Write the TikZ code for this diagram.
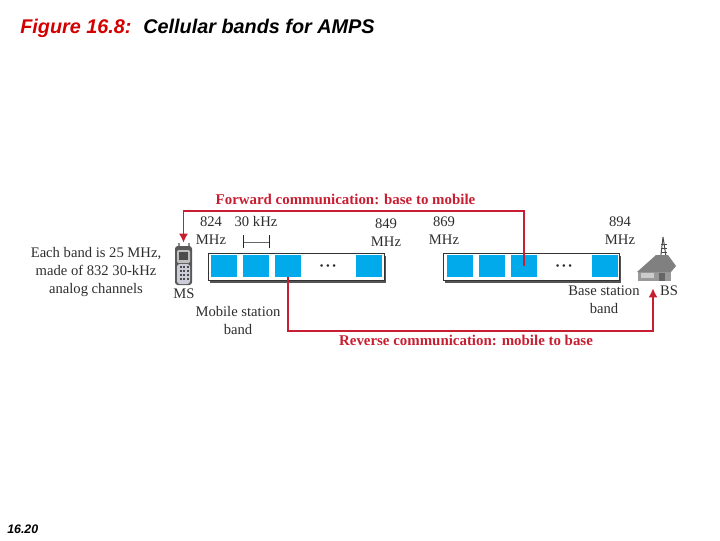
\documentclass[tikz,border=0pt]{standalone}
\usepackage{xcolor}
\usepackage{fontspec}
\setmainfont{Liberation Serif}
\newfontfamily\slidefont{Liberation Sans}
\usepackage{tikz}
\usetikzlibrary{arrows.meta}
\definecolor{bandblue}{RGB}{0,170,235}
\definecolor{linkred}{RGB}{200,30,50}
\definecolor{figred}{RGB}{210,0,0}
\definecolor{inktext}{RGB}{45,45,45}
\definecolor{shadowgray}{RGB}{85,85,85}
\begin{document}
\begin{tikzpicture}[
  x=0.025cm, y=-0.025cm,
  label/.style={font=\fontsize{10.4}{12.8}\selectfont, text=inktext, align=center, inner sep=0pt},
  linklabel/.style={font=\fontsize{10.6}{12}\selectfont\bfseries, text=linkred, inner sep=0pt},
  slidetext/.style={font=\slidefont\fontsize{14.1}{16}\selectfont\bfseries\itshape, anchor=base west, inner sep=0pt},
  band/.style={draw=black!80, fill=white, line width=0.6pt, anchor=north west,
    minimum width=4.4cm, minimum height=0.68cm, inner sep=0pt},
  bandshadow/.style={fill=shadowgray, anchor=north west,
    minimum width=4.4cm, minimum height=0.68cm, inner sep=0pt},
  cell/.style={fill=bandblue, anchor=north west, minimum width=0.64cm,
    minimum height=0.54cm, inner sep=0pt},
  dots/.style={font=\fontsize{7.5}{7.5}\selectfont, text=black!85, inner sep=0pt},
  link/.style={draw=linkred, line width=1.25pt, -{Latex[length=6.5pt,width=6.5pt]}},
]
\useasboundingbox (0,0) rectangle (720,540);

% slide title and page number
\node[slidetext, text=figred] (figno) at (20,33) {Figure 16.8:};
\node[slidetext] (title) at (143,33) {Cellular bands for AMPS};
\node[font=\slidefont\fontsize{8.8}{10}\selectfont\bfseries\itshape, anchor=west, inner sep=0pt] (pageno) at (7,529) {16.20};

% mobile station band
\node[bandshadow] (shadowA) at (210,256) {};
\node[band] (bandA) at (208,253) {};
\node[cell] (a1) at (211,255) {};
\node[cell] (a2) at (243,255) {};
\node[cell] (a3) at (275,255) {};
\node[cell] (a4) at (356,255) {};
\node[dots] (dotsA) at (328,267.5) {\textbullet\ \textbullet\ \textbullet};

% base station band
\node[bandshadow] (shadowB) at (445,256) {};
\node[band] (bandB) at (443,253) {};
\node[cell] (b1) at (447,255) {};
\node[cell] (b2) at (479,255) {};
\node[cell] (b3) at (511,255) {};
\node[cell] (b4) at (592,255) {};
\node[dots] (dotsB) at (564,267.5) {\textbullet\ \textbullet\ \textbullet};

% frequency labels
\node[label] (f824) at (211,231) {824\\MHz};
\node[label] (f849) at (386,233) {849\\MHz};
\node[label] (f869) at (444,231) {869\\MHz};
\node[label] (f894) at (620,231) {894\\MHz};
\node[label] (khz) at (256,221) {30 kHz};

% channel width mark
\coordinate (tickL) at (243,242);
\coordinate (tickR) at (269,242);
\draw[black!60, line width=0.5pt] (tickL) -- (tickR);
\draw[black!85, line width=0.6pt] (243,235) -- (243,248);
\draw[black!85, line width=0.6pt] (269,235) -- (269,248);

% other texts
\node[label] (note) at (96,272) {Each band is 25 MHz,\\made of 832 30-kHz\\analog channels};
\node[label] (ms) at (184,294) {MS};
\node[label] (msband) at (238,320) {Mobile station\\band};
\node[label] (bsband) at (604,300) {Base station\\band};
\node[label] (bs) at (669,291) {BS};
\node[linklabel] (fwd) at (345.5,199.5) {Forward communication: base to mobile};
\node[linklabel] (rev) at (466,340.5) {Reverse communication: mobile to base};

% handset
\node[inner sep=0pt, minimum width=0.4cm, minimum height=1cm] (phone) at (183.5,263) {};
\fill[black!45] (178,243) rectangle (180,248);
\fill[black!45] (188,243) rectangle (190,248);
\fill[black!65, rounded corners=2pt] (175,246) rectangle (192,285);
\fill[black!25, rounded corners=1pt] (177,250) rectangle (190,263);
\fill[black!70] (179,252) rectangle (188,260);
\fill[blue!30!black!20, rounded corners=2pt] (177,264) rectangle (190,284);
\foreach \yy in {266,270,274,278} {
  \foreach \xx in {179.5,183,186.5} {
    \fill[black!70] (\xx,\yy) rectangle ++(2,2);
  }
}

% base station
\node[inner sep=0pt, minimum width=0.95cm, minimum height=1.1cm] (house) at (653,266) {};
\draw[black!70, line width=0.7pt] (663,237) -- (660,263) (663,237) -- (667,263);
\foreach \yy in {244,248,252,256,260} {
  \draw[black!70, line width=0.5pt] (660.5,\yy) -- (666.5,\yy);
}
\fill[black!40] (638,271) rectangle (671,281);
\fill[black!50] (637,272) -- (656,255) -- (668,255) -- (676,266) -- (671,272) -- cycle;
\fill[black!20] (641,273) rectangle (654,278);
\fill[black!60] (659,273) rectangle (665,281);

% communication links
\coordinate (fwdY) at (0,211);
\coordinate (revY) at (0,331);
\draw[link] (b3.center) -- (b3.center |- fwdY) -- (phone.north |- fwdY) -- (phone.north);
\draw[link] (a3.south) -- (a3.south |- revY) -- (house.south |- revY) -- (house.south);
\end{tikzpicture}
\end{document}
